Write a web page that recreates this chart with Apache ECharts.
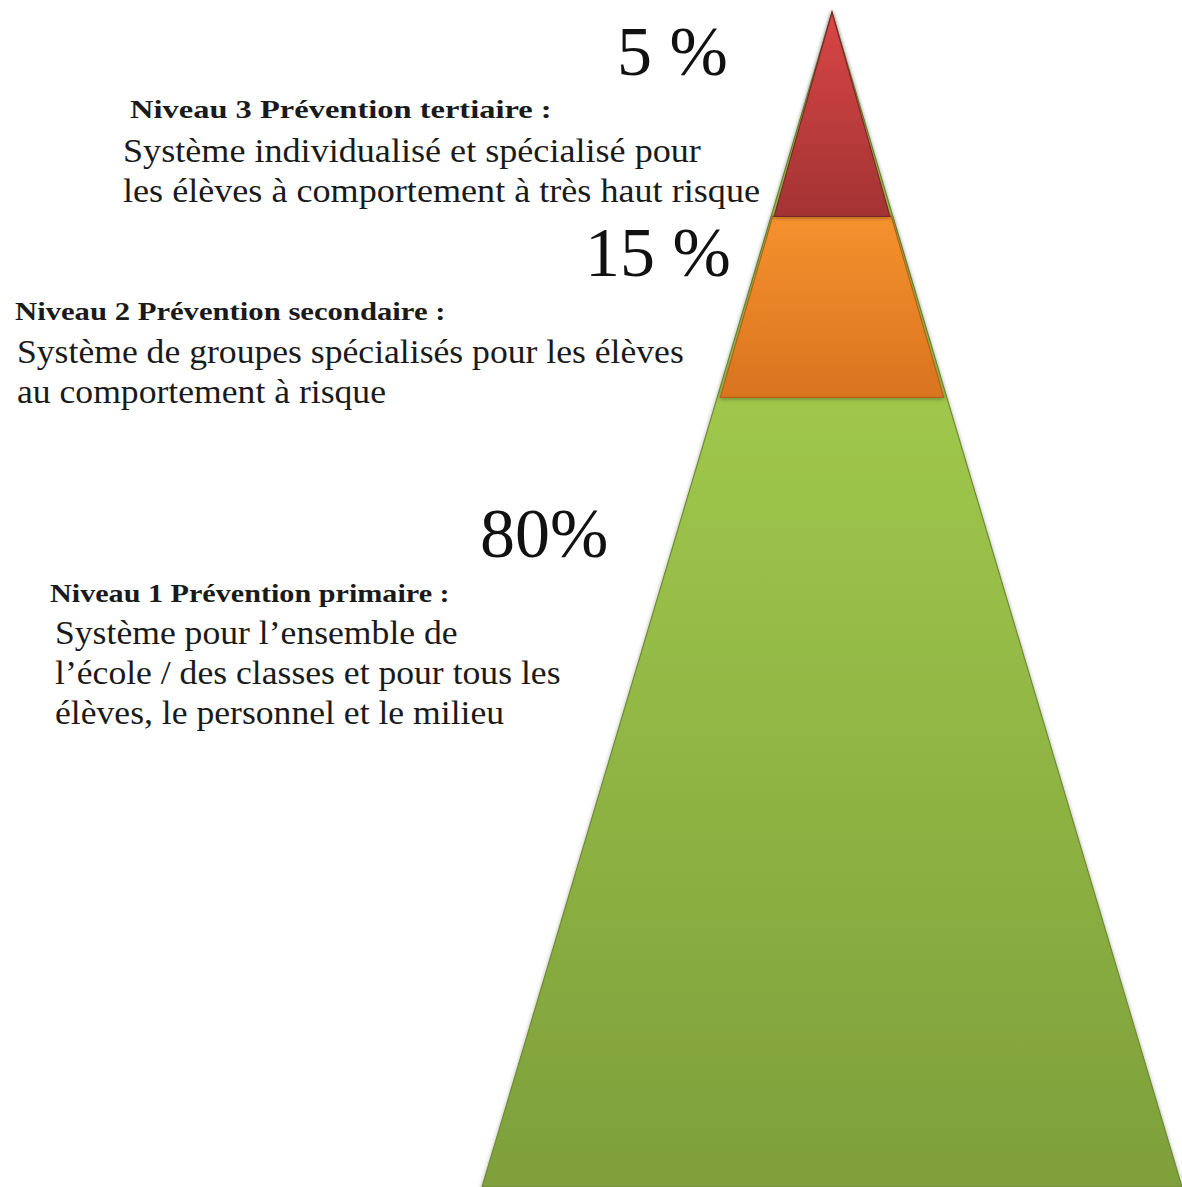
<!DOCTYPE html>
<html><head><meta charset="utf-8">
<script src="https://cdn.jsdelivr.net/npm/echarts@6/dist/echarts.min.js"></script>
<style>html,body{margin:0;padding:0;background:#fff}#main{width:1182px;height:1187px}</style>
</head><body><div id="main"></div>
<script>
// Levels, drawn from the base (level 1) to the top (level 3)
const levels = ['Niveau 1 Prévention primaire :', 'Niveau 2 Prévention secondaire :', 'Niveau 3 Prévention tertiaire :'];
const percentLabels = ['80%', '15 %', '5 %'];
// Extent of each band on the pyramid height axis (0 = base, 1 = apex)
const bandBottom = [0, 0.672, 0.826];
const bandTop = [1, 0.826, 1];
const descriptions = [
  ['Système pour l’ensemble de', 'l’école / des classes et pour tous les', 'élèves, le personnel et le milieu'],
  ['Système de groupes spécialisés pour les élèves', 'au comportement à risque'],
  ['Système individualisé et spécialisé pour', 'les élèves à comportement à très haut risque']
];

const fills = [
  {type:'linear',x:0,y:0,x2:0,y2:1,colorStops:[{offset:0,color:'#a9d152'},{offset:0.35,color:'#9fc64b'},{offset:1,color:'#7e9f3b'}]},
  {type:'linear',x:0,y:0,x2:0,y2:1,colorStops:[{offset:0,color:'#f6912f'},{offset:1,color:'#d9741f'}]},
  {type:'linear',x:0,y:0,x2:0,y2:1,colorStops:[{offset:0,color:'#d94646'},{offset:1,color:'#a33333'}]}
];
const strokes = ['#6f8c33', '#b35f1c', '#7d2828'];
const insets = [0, 3, 3];

// text layout (pixels, baselines)
const headX = [50, 15, 130], headY = [602, 320, 118], headScale = [1.16, 1.18, 1.25];
const bodyX = [55, 17, 123], bodyY = [643, 362, 161], bodyScale = [1.08, 1.08, 1.095];
const pctX = [480, 585, 617], pctY = [557, 276, 75];
const lineGap = 40;
const ASC = 0.83; // ascent ratio used to place text top from baseline

const SERIF = '"Liberation Serif", "DejaVu Serif", serif';
const graphics = [];
levels.forEach((t, i) => {
  graphics.push({type:'text', x:headX[i], y:headY[i] - ASC*26, scaleX:headScale[i],
    style:{text:t, x:0, y:0, textVerticalAlign:'top', font:'bold 26px ' + SERIF, fill:'#1a1a1a'}});
  descriptions[i].forEach((line, j) => {
    graphics.push({type:'text', x:bodyX[i], y:bodyY[i] - ASC*33 + j*lineGap, scaleX:bodyScale[i],
      style:{text:line, x:0, y:0, textVerticalAlign:'top', font:'33px ' + SERIF, fill:'#1a1a1a'}});
  });
  graphics.push({type:'text', x:pctX[i], y:pctY[i] - ASC*70,
    style:{text:percentLabels[i], x:0, y:0, textVerticalAlign:'top', font:'70px ' + SERIF, fill:'#111'}});
});

const chart = echarts.init(document.getElementById('main'), null, {renderer:'svg'});
chart.setOption({
  animation:false,
  grid:{left:482, right:0, top:12, bottom:0},
  xAxis:{type:'value', min:-1, max:1, show:false},
  yAxis:{type:'value', min:0, max:1, show:false},
  graphic:graphics,
  series:[{
    type:'custom',
    coordinateSystem:'cartesian2d',
    data: levels.map((l, i) => ({name:l, value:[bandBottom[i], bandTop[i]]})),
    renderItem:(params, api) => {
      const i = params.dataIndex;
      const b = api.value(0), t = api.value(1);
      const d = insets[i];
      const bl = api.coord([-(1-b), b]), br = api.coord([1-b, b]);
      const tl = api.coord([-(1-t), t]), tr = api.coord([1-t, t]);
      const k = (1-t)/(1-b||1);
      const pts = [[bl[0]+d, bl[1]], [br[0]-d, br[1]], [tr[0]-d*k, tr[1]], [tl[0]+d*k, tl[1]]];
      return {
        type:'polygon',
        shape:{points:pts},
        style:{fill:fills[i], stroke:strokes[i], lineWidth:1.2, shadowBlur:4, shadowColor:'rgba(0,0,0,0.35)', shadowOffsetY:1}
      };
    }
  }]
});
</script></body></html>
